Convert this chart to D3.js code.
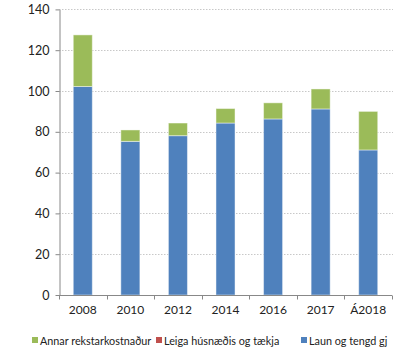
<!DOCTYPE html>
<html><head><meta charset="utf-8">
<script src="https://cdn.jsdelivr.net/npm/d3@7"></script>
<style>body{margin:0;background:#fff}svg{display:block}text{font-family:Lato,"Open Sans",sans-serif;fill:#222}</style>
</head><body><svg id="c" width="396" height="351"></svg>
<script>
const categories = ["2008","2010","2012","2014","2016","2017","Á2018"];
const laun = [102.2, 75.3, 78.1, 84.3, 86.3, 91.2, 71.1];
const leiga = [0, 0, 0, 0, 0, 0, 0];
const annar = [25.3, 5.6, 6.2, 7.1, 7.9, 9.8, 18.9];
const yTicks = [0,20,40,60,80,100,120,140];
const seriesNames = ["Laun og tengd gj","Leiga húsnæðis og tækja","Annar rekstarkostnaður"];
const seriesColors = ["#4F81BD","#C0504D","#9BBB59"];
const legendOrder = [2,1,0];

const svg = d3.select("#c");
const m = {l:59, r:4, t:9.4, b:56};
const x = d3.scaleBand().domain(categories).range([m.l, 392]).paddingInner(0.6).paddingOuter(0.3);
const y = d3.scaleLinear().domain([0,140]).range([295, 9.4]);

// gridlines
svg.append("g").selectAll("line").data(yTicks.filter(d=>d>0)).join("line")
  .attr("x1", m.l).attr("x2", 393).attr("y1", d=>Math.round(y(d))+0.5).attr("y2", d=>Math.round(y(d))+0.5)
  .attr("stroke","#c8c8c8").attr("stroke-dasharray","1.5,1.5");

const data = categories.map((c,i)=>({cat:c, s0:laun[i], s1:leiga[i], s2:annar[i]}));
const stack = d3.stack().keys(["s0","s1","s2"])(data);
svg.append("g").selectAll("g").data(stack).join("g")
  .attr("fill",(d,i)=>seriesColors[i])
  .selectAll("rect").data(d=>d).join("rect")
  .attr("x", d=>x(d.data.cat)).attr("width", x.bandwidth())
  .attr("y", d=>y(d[1])).attr("height", d=>Math.max(0, y(d[0])-y(d[1])))
  .attr("stroke","#fff").attr("stroke-opacity",0.45).attr("stroke-width",1);

// y axis
const ya = svg.append("g").attr("transform",`translate(${m.l+0.5},0)`)
  .call(d3.axisLeft(y).tickValues(yTicks).tickSize(4).tickSizeOuter(0));
ya.select(".domain").attr("stroke","#888");
ya.selectAll(".tick line").attr("stroke","#888");
ya.selectAll("text").attr("font-size",12.5).attr("x",-10).attr("fill","#222");

// x axis
const xa = svg.append("g").attr("transform",`translate(0,${295.5})`);
xa.append("line").attr("x1",m.l).attr("x2",392).attr("stroke","#888");
const bounds = d3.range(categories.length+1).map(i=> m.l + i*(392-m.l)/categories.length);
xa.selectAll("line.t").data(bounds).join("line").attr("class","t")
  .attr("x1",d=>Math.round(d)+0.5).attr("x2",d=>Math.round(d)+0.5).attr("y1",0).attr("y2",4).attr("stroke","#888");
xa.selectAll("text").data(categories).join("text")
  .attr("x",d=>x(d)+x.bandwidth()/2).attr("y",18).attr("text-anchor","middle")
  .attr("font-size",12).text(d=>d);

// legend
const lg = svg.append("g").attr("transform","translate(0,341)");
const lx = [32, 156, 301];
legendOrder.forEach((si,k)=>{
  lg.append("rect").attr("x",lx[k]).attr("y",-4).attr("width",6).attr("height",6).attr("fill",seriesColors[si]);
  lg.append("text").attr("x",lx[k]+8).attr("y",3.5).attr("font-size",10.8).text(seriesNames[si]);
});
</script></body></html>
